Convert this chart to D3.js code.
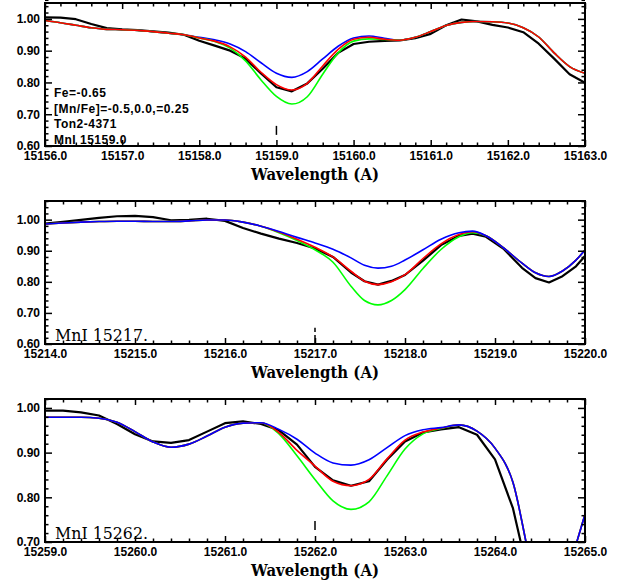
<!DOCTYPE html>
<html>
<head>
<meta charset="utf-8">
<script src="https://cdn.jsdelivr.net/npm/d3@7"></script>
<style>
  body { margin: 0; background: #fff; }
</style>
</head>
<body>
<div id="chart"></div>
<script>

/////////////////////////////
//////// data ///////////////
/////////////////////////////

// panel 1 : MnI 15159.0
var p1Wave = [15156.0, 15156.2, 15156.4, 15156.6, 15156.8, 15157.0, 15157.2, 15157.4, 15157.6, 15157.8,
    15158.0, 15158.2, 15158.4, 15158.6, 15158.8, 15159.0, 15159.2, 15159.4, 15159.6, 15159.8,
    15160.0, 15160.2, 15160.4, 15160.6, 15160.8, 15161.0, 15161.2, 15161.4, 15161.6, 15161.8,
    15162.0, 15162.2, 15162.4, 15162.6, 15162.8, 15163.0];
var p1Obs = [1.005, 1.004, 0.999, 0.984, 0.971, 0.967, 0.965, 0.961, 0.957, 0.950,
    0.931, 0.916, 0.900, 0.875, 0.828, 0.785, 0.772, 0.797, 0.843, 0.893,
    0.921, 0.928, 0.931, 0.932, 0.939, 0.953, 0.980, 0.998, 0.992, 0.981,
    0.973, 0.958, 0.922, 0.875, 0.826, 0.799];
// [Mn/Fe] = -0.5
var p1Blue = [0.995, 0.988, 0.980, 0.972, 0.967, 0.966, 0.964, 0.960, 0.955, 0.950,
    0.942, 0.934, 0.921, 0.897, 0.862, 0.829, 0.816, 0.834, 0.874, 0.914,
    0.940, 0.946, 0.939, 0.933, 0.942, 0.960, 0.979, 0.989, 0.992, 0.991,
    0.987, 0.972, 0.943, 0.893, 0.850, 0.829];
// [Mn/Fe] = 0.0
var p1Red = [0.995, 0.988, 0.980, 0.972, 0.967, 0.966, 0.964, 0.960, 0.955, 0.950,
    0.940, 0.930, 0.912, 0.880, 0.832, 0.793, 0.776, 0.797, 0.852, 0.904,
    0.936, 0.942, 0.936, 0.933, 0.942, 0.960, 0.979, 0.989, 0.992, 0.991,
    0.987, 0.972, 0.943, 0.893, 0.850, 0.829];
// [Mn/Fe] = +0.25
var p1Green = [0.995, 0.988, 0.980, 0.972, 0.967, 0.966, 0.964, 0.960, 0.955, 0.950,
    0.940, 0.929, 0.908, 0.868, 0.808, 0.756, 0.732, 0.755, 0.826, 0.893,
    0.930, 0.937, 0.935, 0.933, 0.942, 0.960, 0.979, 0.989, 0.992, 0.991,
    0.987, 0.972, 0.943, 0.893, 0.850, 0.829];
var p1XTicks = [15156, 15157, 15158, 15159, 15160, 15161, 15162, 15163];
var p1YTicks = [0.6, 0.7, 0.8, 0.9, 1.0];
var p1Notes = ["Fe=-0.65", "[Mn/Fe]=-0.5,0.0,=0.25", "Ton2-4371", "MnI 15159.0"];

// panel 2 : MnI 15217.
var p2Wave = [15214.0, 15214.2, 15214.4, 15214.6, 15214.8, 15215.0, 15215.2, 15215.4, 15215.6, 15215.8,
    15216.0, 15216.2, 15216.4, 15216.6, 15216.8, 15217.0, 15217.2, 15217.4, 15217.55, 15217.7,
    15217.85, 15218.0, 15218.2, 15218.4, 15218.6, 15218.75, 15218.9, 15219.1, 15219.3, 15219.45,
    15219.6, 15219.75, 15219.9, 15220.0];
var p2Obs = [0.987, 0.993, 0.999, 1.006, 1.011, 1.012, 1.008, 0.998, 0.999, 1.003,
    0.996, 0.973, 0.955, 0.939, 0.925, 0.907, 0.880, 0.830, 0.802, 0.791,
    0.803, 0.822, 0.868, 0.918, 0.948, 0.955, 0.945, 0.905, 0.845, 0.812,
    0.798, 0.818, 0.850, 0.883];
var p2Blue = [0.986, 0.989, 0.992, 0.994, 0.995, 0.995, 0.994, 0.994, 0.996, 0.999,
    0.999, 0.992, 0.979, 0.962, 0.943, 0.925, 0.905, 0.877, 0.853, 0.844,
    0.850, 0.870, 0.903, 0.937, 0.958, 0.963, 0.948, 0.908, 0.860, 0.829,
    0.817, 0.835, 0.870, 0.902];
var p2Red = [0.986, 0.989, 0.992, 0.994, 0.995, 0.995, 0.994, 0.994, 0.996, 0.999,
    0.999, 0.992, 0.979, 0.960, 0.937, 0.911, 0.880, 0.834, 0.802, 0.791,
    0.800, 0.823, 0.875, 0.922, 0.952, 0.961, 0.948, 0.908, 0.860, 0.829,
    0.817, 0.835, 0.870, 0.902];
var p2Green = [0.986, 0.989, 0.992, 0.994, 0.995, 0.995, 0.994, 0.994, 0.996, 0.999,
    0.999, 0.992, 0.979, 0.958, 0.933, 0.903, 0.863, 0.786, 0.740, 0.726,
    0.740, 0.775, 0.843, 0.904, 0.945, 0.958, 0.948, 0.908, 0.860, 0.829,
    0.817, 0.835, 0.870, 0.902];
var p2XTicks = [15214, 15215, 15216, 15217, 15218, 15219, 15220];
var p2YTicks = [0.6, 0.7, 0.8, 0.9, 1.0];

// panel 3 : MnI 15262.
var p3Wave = [15259.0, 15259.2, 15259.4, 15259.6, 15259.8, 15260.0, 15260.2, 15260.4, 15260.6, 15260.8,
    15261.0, 15261.2, 15261.4, 15261.6, 15261.8, 15262.0, 15262.2, 15262.4, 15262.6, 15262.8,
    15263.0, 15263.2, 15263.4, 15263.6, 15263.8, 15264.0, 15264.2, 15264.4, 15264.6, 15264.8,
    15265.0];
var p3Obs = [0.994, 0.994, 0.990, 0.983, 0.964, 0.941, 0.925, 0.922, 0.928, 0.947,
    0.966, 0.970, 0.964, 0.950, 0.918, 0.868, 0.838, 0.826, 0.836, 0.884,
    0.925, 0.945, 0.952, 0.957, 0.940, 0.885, 0.775, 0.600, 0.520, 0.520,
    0.540];
var p3Blue = [0.979, 0.979, 0.979, 0.977, 0.968, 0.947, 0.924, 0.912, 0.919, 0.937,
    0.957, 0.966, 0.967, 0.952, 0.930, 0.899, 0.877, 0.872, 0.884, 0.911,
    0.938, 0.951, 0.956, 0.962, 0.948, 0.910, 0.833, 0.650, 0.520, 0.630,
    0.762];
var p3Red = [0.979, 0.979, 0.979, 0.977, 0.968, 0.947, 0.924, 0.912, 0.919, 0.937,
    0.957, 0.966, 0.967, 0.945, 0.905, 0.870, 0.836, 0.826, 0.840, 0.886,
    0.928, 0.946, 0.955, 0.962, 0.948, 0.910, 0.833, 0.650, 0.520, 0.630,
    0.762];
var p3Green = [0.979, 0.979, 0.979, 0.977, 0.968, 0.947, 0.924, 0.912, 0.919, 0.937,
    0.957, 0.966, 0.967, 0.942, 0.893, 0.840, 0.792, 0.773, 0.790, 0.848,
    0.908, 0.942, 0.954, 0.962, 0.948, 0.910, 0.833, 0.650, 0.520, 0.630,
    0.762];
var p3XTicks = [15259, 15260, 15261, 15262, 15263, 15264, 15265];
var p3YTicks = [0.7, 0.8, 0.9, 1.0];

var panels = [
    { wave: p1Wave, obs: p1Obs, xTicks: p1XTicks, yTicks: p1YTicks, yDomain: [0.6, 1.05],
      syn: [["#0000ff", p1Blue], ["#00ff00", p1Green], ["#ff0000", p1Red]],
      marker: [15159.0, 0.635, 0.672], label: null, notes: p1Notes },
    { wave: p2Wave, obs: p2Obs, xTicks: p2XTicks, yTicks: p2YTicks, yDomain: [0.6, 1.06],
      syn: [["#00ff00", p2Green], ["#ff0000", p2Red], ["#0000ff", p2Blue]],
      marker: [15217.0, 0.600, 0.652], label: "MnI 15217.", notes: [] },
    { wave: p3Wave, obs: p3Obs, xTicks: p3XTicks, yTicks: p3YTicks, yDomain: [0.7, 1.02],
      syn: [["#00ff00", p3Green], ["#ff0000", p3Red], ["#0000ff", p3Blue]],
      marker: [15262.0, 0.727, 0.749], label: "MnI 15262.", notes: [] }
];

/////////////////////////////
//////// drawing ////////////
/////////////////////////////

var width = 635, height = 588;
var margin = { left: 45, right: 50 };
var plot_w = width - margin.left - margin.right,
    plot_h = 143;
var panel_tops = [3, 201, 399];
var xFmt = d3.format(".1f"), yFmt = d3.format(".2f");

var svg = d3.select("#chart")
    .append("svg")
    .attr("width", width)
    .attr("height", height);

function styleAxis(sel) {
    sel.select(".domain").remove();
    sel.selectAll("line").attr("stroke", "#000").attr("stroke-width", 1.5);
    sel.attr("font-family", "'Liberation Sans', Arial, sans-serif")
        .attr("font-size", 12)
        .attr("font-weight", "bold");
    sel.selectAll("text").attr("fill", "#000");
}

panels.forEach(function (p, i) {
    var g = svg.append("g")
        .attr("transform", "translate(" + margin.left + "," + panel_tops[i] + ")");

    var x0 = p.xTicks[0], x1 = p.xTicks[p.xTicks.length - 1];
    var x = d3.scaleLinear().domain([x0, x1]).range([0, plot_w]);
    var y = d3.scaleLinear().domain(p.yDomain).range([plot_h, 0]);

    // minor tick positions
    var xMinor = d3.range(0, Math.round((x1 - x0) / 0.2) + 1)
        .map(function (k) { return x0 + k * 0.2 })
        .filter(function (v) { return Math.abs(v - Math.round(v)) > 1e-6 });
    var yMinor = d3.range(0, Math.round((p.yDomain[1] - p.yDomain[0]) / 0.02) + 1)
        .map(function (k) { return p.yDomain[0] + k * 0.02 })
        .filter(function (v) { return Math.abs(v * 10 - Math.round(v * 10)) > 1e-6 });

    g.append("clipPath").attr("id", "clip" + i)
        .append("rect").attr("width", plot_w).attr("height", plot_h);

    var curves = g.append("g").attr("clip-path", "url(#clip" + i + ")");

    // observed spectrum
    var obsLine = d3.line()
        .x(function (d, k) { return x(p.wave[k]) })
        .y(function (d) { return y(d) });
    curves.append("path")
        .datum(p.obs)
        .attr("d", obsLine)
        .attr("fill", "none")
        .attr("stroke", "#000")
        .attr("stroke-width", 2.2)
        .attr("stroke-linejoin", "round");

    // synthetic spectra
    var synLine = d3.line()
        .x(function (d, k) { return x(p.wave[k]) })
        .y(function (d) { return y(d) })
        .curve(d3.curveMonotoneX);
    p.syn.forEach(function (s) {
        curves.append("path")
            .datum(s[1])
            .attr("d", synLine)
            .attr("fill", "none")
            .attr("stroke", s[0])
            .attr("stroke-width", 1.6);
    });

    // axes - major
    g.append("g")
        .attr("transform", "translate(0," + plot_h + ")")
        .call(d3.axisBottom(x).tickValues(p.xTicks).tickFormat(xFmt)
            .tickSizeInner(-6).tickSizeOuter(0).tickPadding(5))
        .call(styleAxis);
    g.append("g")
        .call(d3.axisTop(x).tickValues(p.xTicks).tickFormat("")
            .tickSizeInner(-6).tickSizeOuter(0))
        .call(styleAxis);
    g.append("g")
        .call(d3.axisLeft(y).tickValues(p.yTicks).tickFormat(yFmt)
            .tickSizeInner(-7).tickSizeOuter(0).tickPadding(5))
        .call(styleAxis);
    g.append("g")
        .attr("transform", "translate(" + plot_w + ",0)")
        .call(d3.axisRight(y).tickValues(p.yTicks).tickFormat("")
            .tickSizeInner(-7).tickSizeOuter(0))
        .call(styleAxis);

    // axes - minor
    g.append("g")
        .attr("transform", "translate(0," + plot_h + ")")
        .call(d3.axisBottom(x).tickValues(xMinor).tickFormat("").tickSizeInner(-3.5).tickSizeOuter(0))
        .call(styleAxis);
    g.append("g")
        .call(d3.axisTop(x).tickValues(xMinor).tickFormat("").tickSizeInner(-3.5).tickSizeOuter(0))
        .call(styleAxis);
    g.append("g")
        .call(d3.axisLeft(y).tickValues(yMinor).tickFormat("").tickSizeInner(-3.5).tickSizeOuter(0))
        .call(styleAxis);
    g.append("g")
        .attr("transform", "translate(" + plot_w + ",0)")
        .call(d3.axisRight(y).tickValues(yMinor).tickFormat("").tickSizeInner(-3.5).tickSizeOuter(0))
        .call(styleAxis);

    // frame
    g.append("rect")
        .attr("width", plot_w)
        .attr("height", plot_h)
        .attr("fill", "none")
        .attr("stroke", "#000")
        .attr("stroke-width", 2);

    // line centre marker
    g.append("line")
        .attr("x1", x(p.marker[0])).attr("x2", x(p.marker[0]))
        .attr("y1", y(p.marker[1])).attr("y2", y(p.marker[2]))
        .attr("stroke", "#000")
        .attr("stroke-width", 1.5)
        .attr("stroke-dasharray", "9,3");

    // notes (panel 1)
    g.selectAll(".note")
        .data(p.notes)
        .join("text")
        .attr("class", "note")
        .attr("x", 9)
        .attr("y", function (d, k) { return plot_h - 49 + k * 15.7 })
        .attr("font-family", "'Liberation Sans', Arial, sans-serif")
        .attr("font-size", 12)
        .attr("font-weight", "bold")
        .attr("letter-spacing", 0.5)
        .text(function (d) { return d });

    if (p.label) {
        g.append("text")
            .attr("x", 10)
            .attr("y", plot_h - 3)
            .attr("font-family", "'DejaVu Serif', 'Liberation Serif', serif")
            .attr("font-size", 16)
            .attr("textLength", 93)
            .attr("lengthAdjust", "spacingAndGlyphs")
            .text(p.label);
    }

    // x title
    g.append("text")
        .attr("x", plot_w / 2)
        .attr("y", plot_h + 34)
        .attr("text-anchor", "middle")
        .attr("font-family", "'DejaVu Serif', 'Liberation Serif', serif")
        .attr("font-size", 16)
        .attr("font-weight", "bold")
        .attr("textLength", 128)
        .attr("lengthAdjust", "spacingAndGlyphs")
        .text("Wavelength (A)");
});

</script>
</body>
</html>
